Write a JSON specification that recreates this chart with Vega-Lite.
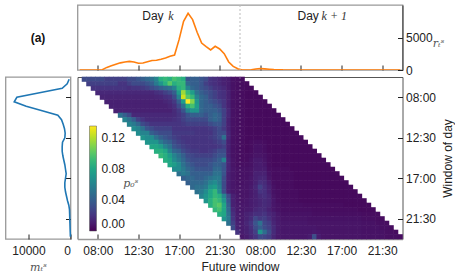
{"$schema":"https://vega.github.io/schema/vega-lite/v6.json","padding":{"left":4.5,"top":3,"right":0,"bottom":0},"config":{"view":{"stroke":"#999","strokeWidth":1.3},"axis":{"labelFont":"Liberation Sans","titleFont":"Liberation Sans","labelFontSize":12,"titleFontSize":12,"labelColor":"#222","titleColor":"#222","tickColor":"#222","domain":false,"grid":false,"labelOverlap":false,"titleFontWeight":"normal"},"text":{"font":"Liberation Sans"}},"columns":2,"spacing":7,"bounds":"flush","concat":[{"width":65,"height":65,"view":{"stroke":null},"data":{"values":[{"t":"(a)","x":0.5,"y":0.5}]},"mark":{"type":"text","fontWeight":"bold","fontSize":12,"color":"#111"},"encoding":{"text":{"field":"t"},"x":{"field":"x","type":"quantitative","scale":{"domain":[0,1]},"axis":null},"y":{"field":"y","type":"quantitative","scale":{"domain":[0,1]},"axis":null}}},{"width":325,"height":65,"layer":[{"data":{"values":[{"c":0,"v":0},{"c":4,"v":0},{"c":5,"v":50},{"c":6,"v":400},{"c":7,"v":650},{"c":8,"v":900},{"c":9,"v":1100},{"c":10,"v":1230},{"c":11,"v":1330},{"c":12,"v":1230},{"c":13,"v":1030},{"c":14,"v":1080},{"c":15,"v":1280},{"c":16,"v":1460},{"c":17,"v":1490},{"c":18,"v":1640},{"c":19,"v":1850},{"c":20,"v":2100},{"c":21,"v":2310},{"c":22,"v":4670},{"c":23,"v":7490},{"c":24,"v":8720},{"c":25,"v":7750},{"c":26,"v":5800},{"c":27,"v":4150},{"c":28,"v":3590},{"c":29,"v":3080},{"c":30,"v":3640},{"c":31,"v":3230},{"c":32,"v":2510},{"c":33,"v":1230},{"c":34,"v":560},{"c":35,"v":200},{"c":36,"v":0},{"c":37,"v":0},{"c":38,"v":30},{"c":39,"v":150},{"c":40,"v":220},{"c":41,"v":180},{"c":42,"v":120},{"c":43,"v":60},{"c":44,"v":40},{"c":45,"v":20},{"c":71,"v":10}]},"mark":{"type":"line","color":"#ff7f0e","strokeWidth":1.6,"clip":true},"encoding":{"x":{"field":"c","type":"quantitative","scale":{"domain":[-0.5,71.5],"nice":false,"zero":false},"axis":{"orient":"bottom","values":[4,13,22,31,40,49,58,67],"labels":false,"tickSize":-5,"title":null}},"y":{"field":"v","type":"quantitative","scale":{"domain":[0,10000],"nice":false},"axis":{"orient":"right","values":[0,5000],"tickSize":-5,"labelPadding":8,"format":"d","title":null,"domain":true,"domainColor":"#333","domainWidth":1}}}},{"data":{"values":[{"c":35.5}]},"mark":{"type":"rule","color":"#bbb","strokeDash":[2,2],"strokeWidth":1},"encoding":{"x":{"field":"c","type":"quantitative"}}},{"data":{"values":[{"t":"Day","c":16.2,"v":8300},{"t":"Day","c":50.6,"v":8300}]},"mark":{"type":"text","fontSize":12,"color":"#222"},"encoding":{"text":{"field":"t"},"x":{"field":"c","type":"quantitative"},"y":{"field":"v","type":"quantitative"}}},{"data":{"values":[{"t":"k","c":20.2,"v":8300},{"t":"k + 1","c":56.4,"v":8300}]},"mark":{"type":"text","fontSize":12,"font":"Liberation Serif","fontStyle":"italic","color":"#333"},"encoding":{"text":{"field":"t"},"x":{"field":"c","type":"quantitative"},"y":{"field":"v","type":"quantitative"}}},{"data":{"values":[{"t":"rₜˢ","c":79.5,"v":4000}]},"mark":{"type":"text","fontSize":11,"font":"DejaVu Serif","fontStyle":"italic","color":"#555","clip":false},"encoding":{"text":{"field":"t"},"x":{"field":"c","type":"quantitative"},"y":{"field":"v","type":"quantitative"}}}]},{"width":65,"height":162,"data":{"values":[{"r":0,"v":320},{"r":1,"v":790},{"r":2,"v":1980},{"r":3,"v":7370},{"r":4,"v":12770},{"r":5,"v":13400},{"r":6,"v":10550},{"r":7,"v":6740},{"r":8,"v":3010},{"r":9,"v":2140},{"r":10,"v":1740},{"r":11,"v":1430},{"r":12,"v":1270},{"r":13,"v":1350},{"r":14,"v":1900},{"r":15,"v":1980},{"r":16,"v":1980},{"r":17,"v":1820},{"r":18,"v":1590},{"r":19,"v":1350},{"r":20,"v":1190},{"r":21,"v":1030},{"r":22,"v":1190},{"r":23,"v":1350},{"r":24,"v":1350},{"r":25,"v":1190},{"r":26,"v":950},{"r":27,"v":710},{"r":28,"v":400},{"r":29,"v":240},{"r":30,"v":200},{"r":31,"v":170},{"r":32,"v":130},{"r":33,"v":100},{"r":34,"v":60},{"r":35,"v":20}]},"mark":{"type":"line","color":"#1f77b4","strokeWidth":1.6},"encoding":{"order":{"field":"r"},"x":{"field":"v","type":"quantitative","scale":{"domain":[15476,0],"nice":false,"zero":false},"axis":{"values":[10000,0],"tickSize":-5,"labelPadding":11,"format":"d","title":"mₜˢ","titleFont":"DejaVu Serif","titleFontStyle":"italic","titleFontSize":11,"titleColor":"#555","titlePadding":5}},"y":{"field":"r","type":"quantitative","scale":{"domain":[35.5,-0.5],"nice":false,"zero":false},"axis":{"orient":"right","values":[4,13,22,31],"labels":false,"tickSize":-5,"title":null}}}},{"width":325,"height":162,"view":{"stroke":"#555","strokeWidth":1},"layer":[{"data":{"values":[{"r":0,"c":1,"v":0.03},{"r":0,"c":2,"v":0.03},{"r":0,"c":3,"v":0.03},{"r":0,"c":4,"v":0.03},{"r":0,"c":5,"v":0.03},{"r":0,"c":6,"v":0.025},{"r":0,"c":7,"v":0.025},{"r":0,"c":8,"v":0.025},{"r":0,"c":9,"v":0.025},{"r":0,"c":10,"v":0.025},{"r":0,"c":11,"v":0.03},{"r":0,"c":12,"v":0.03},{"r":0,"c":13,"v":0.035},{"r":0,"c":14,"v":0.04},{"r":0,"c":15,"v":0.045},{"r":0,"c":16,"v":0.05},{"r":0,"c":17,"v":0.06},{"r":0,"c":18,"v":0.085},{"r":0,"c":19,"v":0.09},{"r":0,"c":20,"v":0.085},{"r":0,"c":21,"v":0.095},{"r":0,"c":22,"v":0.09},{"r":0,"c":23,"v":0.085},{"r":0,"c":24,"v":0.035},{"r":0,"c":25,"v":0.04},{"r":0,"c":26,"v":0.04},{"r":0,"c":27,"v":0.035},{"r":0,"c":28,"v":0.03},{"r":0,"c":29,"v":0.02},{"r":0,"c":30,"v":0.018},{"r":0,"c":31,"v":0.015},{"r":0,"c":32,"v":0.012},{"r":0,"c":33,"v":0.01},{"r":0,"c":34,"v":0.006},{"r":0,"c":35,"v":0.005},{"r":0,"c":36,"v":0.004},{"r":1,"c":2,"v":0.025},{"r":1,"c":3,"v":0.025},{"r":1,"c":4,"v":0.025},{"r":1,"c":5,"v":0.025},{"r":1,"c":6,"v":0.025},{"r":1,"c":7,"v":0.025},{"r":1,"c":8,"v":0.025},{"r":1,"c":9,"v":0.02},{"r":1,"c":10,"v":0.02},{"r":1,"c":11,"v":0.025},{"r":1,"c":12,"v":0.03},{"r":1,"c":13,"v":0.03},{"r":1,"c":14,"v":0.03},{"r":1,"c":15,"v":0.035},{"r":1,"c":16,"v":0.04},{"r":1,"c":17,"v":0.055},{"r":1,"c":18,"v":0.07},{"r":1,"c":19,"v":0.085},{"r":1,"c":20,"v":0.1},{"r":1,"c":21,"v":0.085},{"r":1,"c":22,"v":0.09},{"r":1,"c":23,"v":0.09},{"r":1,"c":24,"v":0.045},{"r":1,"c":25,"v":0.04},{"r":1,"c":26,"v":0.04},{"r":1,"c":27,"v":0.035},{"r":1,"c":28,"v":0.025},{"r":1,"c":29,"v":0.02},{"r":1,"c":30,"v":0.018},{"r":1,"c":31,"v":0.015},{"r":1,"c":32,"v":0.012},{"r":1,"c":33,"v":0.01},{"r":1,"c":34,"v":0.006},{"r":1,"c":35,"v":0.005},{"r":1,"c":36,"v":0.004},{"r":1,"c":37,"v":0.003},{"r":2,"c":3,"v":0.02},{"r":2,"c":4,"v":0.02},{"r":2,"c":5,"v":0.02},{"r":2,"c":6,"v":0.02},{"r":2,"c":7,"v":0.02},{"r":2,"c":8,"v":0.02},{"r":2,"c":9,"v":0.02},{"r":2,"c":10,"v":0.02},{"r":2,"c":11,"v":0.018},{"r":2,"c":12,"v":0.02},{"r":2,"c":13,"v":0.02},{"r":2,"c":14,"v":0.022},{"r":2,"c":15,"v":0.025},{"r":2,"c":16,"v":0.03},{"r":2,"c":17,"v":0.035},{"r":2,"c":18,"v":0.04},{"r":2,"c":19,"v":0.045},{"r":2,"c":20,"v":0.05},{"r":2,"c":21,"v":0.06},{"r":2,"c":22,"v":0.085},{"r":2,"c":23,"v":0.09},{"r":2,"c":24,"v":0.06},{"r":2,"c":25,"v":0.045},{"r":2,"c":26,"v":0.04},{"r":2,"c":27,"v":0.035},{"r":2,"c":28,"v":0.03},{"r":2,"c":29,"v":0.025},{"r":2,"c":30,"v":0.02},{"r":2,"c":31,"v":0.018},{"r":2,"c":32,"v":0.015},{"r":2,"c":33,"v":0.01},{"r":2,"c":34,"v":0.006},{"r":2,"c":35,"v":0.005},{"r":2,"c":36,"v":0.004},{"r":2,"c":37,"v":0.003},{"r":2,"c":38,"v":0.003},{"r":3,"c":4,"v":0.015},{"r":3,"c":5,"v":0.015},{"r":3,"c":6,"v":0.015},{"r":3,"c":7,"v":0.015},{"r":3,"c":8,"v":0.015},{"r":3,"c":9,"v":0.015},{"r":3,"c":10,"v":0.015},{"r":3,"c":11,"v":0.015},{"r":3,"c":12,"v":0.015},{"r":3,"c":13,"v":0.015},{"r":3,"c":14,"v":0.015},{"r":3,"c":15,"v":0.015},{"r":3,"c":16,"v":0.015},{"r":3,"c":17,"v":0.018},{"r":3,"c":18,"v":0.02},{"r":3,"c":19,"v":0.025},{"r":3,"c":20,"v":0.03},{"r":3,"c":21,"v":0.04},{"r":3,"c":22,"v":0.075},{"r":3,"c":23,"v":0.115},{"r":3,"c":24,"v":0.09},{"r":3,"c":25,"v":0.075},{"r":3,"c":26,"v":0.05},{"r":3,"c":27,"v":0.04},{"r":3,"c":28,"v":0.035},{"r":3,"c":29,"v":0.03},{"r":3,"c":30,"v":0.025},{"r":3,"c":31,"v":0.02},{"r":3,"c":32,"v":0.018},{"r":3,"c":33,"v":0.012},{"r":3,"c":34,"v":0.006},{"r":3,"c":35,"v":0.005},{"r":3,"c":36,"v":0.004},{"r":3,"c":37,"v":0.003},{"r":3,"c":38,"v":0.003},{"r":3,"c":39,"v":0.003},{"r":4,"c":5,"v":0.013},{"r":4,"c":6,"v":0.013},{"r":4,"c":7,"v":0.013},{"r":4,"c":8,"v":0.013},{"r":4,"c":9,"v":0.013},{"r":4,"c":10,"v":0.013},{"r":4,"c":11,"v":0.013},{"r":4,"c":12,"v":0.013},{"r":4,"c":13,"v":0.013},{"r":4,"c":14,"v":0.013},{"r":4,"c":15,"v":0.013},{"r":4,"c":16,"v":0.013},{"r":4,"c":17,"v":0.014},{"r":4,"c":18,"v":0.015},{"r":4,"c":19,"v":0.018},{"r":4,"c":20,"v":0.02},{"r":4,"c":21,"v":0.03},{"r":4,"c":22,"v":0.06},{"r":4,"c":23,"v":0.125},{"r":4,"c":24,"v":0.1},{"r":4,"c":25,"v":0.09},{"r":4,"c":26,"v":0.06},{"r":4,"c":27,"v":0.045},{"r":4,"c":28,"v":0.04},{"r":4,"c":29,"v":0.03},{"r":4,"c":30,"v":0.025},{"r":4,"c":31,"v":0.02},{"r":4,"c":32,"v":0.018},{"r":4,"c":33,"v":0.012},{"r":4,"c":34,"v":0.006},{"r":4,"c":35,"v":0.005},{"r":4,"c":36,"v":0.004},{"r":4,"c":37,"v":0.003},{"r":4,"c":38,"v":0.003},{"r":4,"c":39,"v":0.003},{"r":4,"c":40,"v":0.003},{"r":5,"c":6,"v":0.012},{"r":5,"c":7,"v":0.012},{"r":5,"c":8,"v":0.012},{"r":5,"c":9,"v":0.012},{"r":5,"c":10,"v":0.012},{"r":5,"c":11,"v":0.012},{"r":5,"c":12,"v":0.012},{"r":5,"c":13,"v":0.012},{"r":5,"c":14,"v":0.012},{"r":5,"c":15,"v":0.012},{"r":5,"c":16,"v":0.012},{"r":5,"c":17,"v":0.012},{"r":5,"c":18,"v":0.012},{"r":5,"c":19,"v":0.014},{"r":5,"c":20,"v":0.016},{"r":5,"c":21,"v":0.022},{"r":5,"c":22,"v":0.04},{"r":5,"c":23,"v":0.075},{"r":5,"c":24,"v":0.135},{"r":5,"c":25,"v":0.11},{"r":5,"c":26,"v":0.07},{"r":5,"c":27,"v":0.045},{"r":5,"c":28,"v":0.04},{"r":5,"c":29,"v":0.035},{"r":5,"c":30,"v":0.03},{"r":5,"c":31,"v":0.025},{"r":5,"c":32,"v":0.02},{"r":5,"c":33,"v":0.012},{"r":5,"c":34,"v":0.006},{"r":5,"c":35,"v":0.005},{"r":5,"c":36,"v":0.004},{"r":5,"c":37,"v":0.003},{"r":5,"c":38,"v":0.003},{"r":5,"c":39,"v":0.003},{"r":5,"c":40,"v":0.003},{"r":5,"c":41,"v":0.003},{"r":6,"c":7,"v":0.012},{"r":6,"c":8,"v":0.012},{"r":6,"c":9,"v":0.012},{"r":6,"c":10,"v":0.012},{"r":6,"c":11,"v":0.012},{"r":6,"c":12,"v":0.012},{"r":6,"c":13,"v":0.012},{"r":6,"c":14,"v":0.012},{"r":6,"c":15,"v":0.012},{"r":6,"c":16,"v":0.012},{"r":6,"c":17,"v":0.012},{"r":6,"c":18,"v":0.012},{"r":6,"c":19,"v":0.012},{"r":6,"c":20,"v":0.014},{"r":6,"c":21,"v":0.018},{"r":6,"c":22,"v":0.03},{"r":6,"c":23,"v":0.05},{"r":6,"c":24,"v":0.085},{"r":6,"c":25,"v":0.095},{"r":6,"c":26,"v":0.075},{"r":6,"c":27,"v":0.045},{"r":6,"c":28,"v":0.04},{"r":6,"c":29,"v":0.04},{"r":6,"c":30,"v":0.035},{"r":6,"c":31,"v":0.03},{"r":6,"c":32,"v":0.02},{"r":6,"c":33,"v":0.012},{"r":6,"c":34,"v":0.006},{"r":6,"c":35,"v":0.005},{"r":6,"c":36,"v":0.004},{"r":6,"c":37,"v":0.003},{"r":6,"c":38,"v":0.003},{"r":6,"c":39,"v":0.003},{"r":6,"c":40,"v":0.003},{"r":6,"c":41,"v":0.003},{"r":6,"c":42,"v":0.003},{"r":7,"c":8,"v":0.012},{"r":7,"c":9,"v":0.012},{"r":7,"c":10,"v":0.012},{"r":7,"c":11,"v":0.012},{"r":7,"c":12,"v":0.012},{"r":7,"c":13,"v":0.012},{"r":7,"c":14,"v":0.012},{"r":7,"c":15,"v":0.012},{"r":7,"c":16,"v":0.012},{"r":7,"c":17,"v":0.012},{"r":7,"c":18,"v":0.012},{"r":7,"c":19,"v":0.012},{"r":7,"c":20,"v":0.012},{"r":7,"c":21,"v":0.016},{"r":7,"c":22,"v":0.022},{"r":7,"c":23,"v":0.035},{"r":7,"c":24,"v":0.06},{"r":7,"c":25,"v":0.07},{"r":7,"c":26,"v":0.07},{"r":7,"c":27,"v":0.045},{"r":7,"c":28,"v":0.04},{"r":7,"c":29,"v":0.04},{"r":7,"c":30,"v":0.04},{"r":7,"c":31,"v":0.035},{"r":7,"c":32,"v":0.025},{"r":7,"c":33,"v":0.014},{"r":7,"c":34,"v":0.006},{"r":7,"c":35,"v":0.005},{"r":7,"c":36,"v":0.004},{"r":7,"c":37,"v":0.003},{"r":7,"c":38,"v":0.003},{"r":7,"c":39,"v":0.003},{"r":7,"c":40,"v":0.003},{"r":7,"c":41,"v":0.003},{"r":7,"c":42,"v":0.003},{"r":7,"c":43,"v":0.003},{"r":8,"c":9,"v":0.05},{"r":8,"c":10,"v":0.04},{"r":8,"c":11,"v":0.03},{"r":8,"c":12,"v":0.015},{"r":8,"c":13,"v":0.015},{"r":8,"c":14,"v":0.015},{"r":8,"c":15,"v":0.015},{"r":8,"c":16,"v":0.015},{"r":8,"c":17,"v":0.015},{"r":8,"c":18,"v":0.015},{"r":8,"c":19,"v":0.015},{"r":8,"c":20,"v":0.015},{"r":8,"c":21,"v":0.016},{"r":8,"c":22,"v":0.02},{"r":8,"c":23,"v":0.025},{"r":8,"c":24,"v":0.035},{"r":8,"c":25,"v":0.04},{"r":8,"c":26,"v":0.04},{"r":8,"c":27,"v":0.04},{"r":8,"c":28,"v":0.035},{"r":8,"c":29,"v":0.04},{"r":8,"c":30,"v":0.045},{"r":8,"c":31,"v":0.04},{"r":8,"c":32,"v":0.025},{"r":8,"c":33,"v":0.014},{"r":8,"c":34,"v":0.006},{"r":8,"c":35,"v":0.005},{"r":8,"c":36,"v":0.004},{"r":8,"c":37,"v":0.003},{"r":8,"c":38,"v":0.003},{"r":8,"c":39,"v":0.003},{"r":8,"c":40,"v":0.003},{"r":8,"c":41,"v":0.003},{"r":8,"c":42,"v":0.003},{"r":8,"c":43,"v":0.003},{"r":8,"c":44,"v":0.003},{"r":9,"c":10,"v":0.06},{"r":9,"c":11,"v":0.05},{"r":9,"c":12,"v":0.04},{"r":9,"c":13,"v":0.025},{"r":9,"c":14,"v":0.02},{"r":9,"c":15,"v":0.016},{"r":9,"c":16,"v":0.016},{"r":9,"c":17,"v":0.016},{"r":9,"c":18,"v":0.016},{"r":9,"c":19,"v":0.016},{"r":9,"c":20,"v":0.016},{"r":9,"c":21,"v":0.018},{"r":9,"c":22,"v":0.02},{"r":9,"c":23,"v":0.025},{"r":9,"c":24,"v":0.03},{"r":9,"c":25,"v":0.03},{"r":9,"c":26,"v":0.03},{"r":9,"c":27,"v":0.03},{"r":9,"c":28,"v":0.03},{"r":9,"c":29,"v":0.04},{"r":9,"c":30,"v":0.045},{"r":9,"c":31,"v":0.04},{"r":9,"c":32,"v":0.025},{"r":9,"c":33,"v":0.012},{"r":9,"c":34,"v":0.006},{"r":9,"c":35,"v":0.005},{"r":9,"c":36,"v":0.004},{"r":9,"c":37,"v":0.003},{"r":9,"c":38,"v":0.003},{"r":9,"c":39,"v":0.003},{"r":9,"c":40,"v":0.003},{"r":9,"c":41,"v":0.003},{"r":9,"c":42,"v":0.003},{"r":9,"c":43,"v":0.003},{"r":9,"c":44,"v":0.003},{"r":9,"c":45,"v":0.003},{"r":10,"c":11,"v":0.06},{"r":10,"c":12,"v":0.055},{"r":10,"c":13,"v":0.045},{"r":10,"c":14,"v":0.03},{"r":10,"c":15,"v":0.025},{"r":10,"c":16,"v":0.02},{"r":10,"c":17,"v":0.02},{"r":10,"c":18,"v":0.02},{"r":10,"c":19,"v":0.02},{"r":10,"c":20,"v":0.02},{"r":10,"c":21,"v":0.02},{"r":10,"c":22,"v":0.02},{"r":10,"c":23,"v":0.022},{"r":10,"c":24,"v":0.025},{"r":10,"c":25,"v":0.025},{"r":10,"c":26,"v":0.025},{"r":10,"c":27,"v":0.025},{"r":10,"c":28,"v":0.025},{"r":10,"c":29,"v":0.03},{"r":10,"c":30,"v":0.035},{"r":10,"c":31,"v":0.035},{"r":10,"c":32,"v":0.025},{"r":10,"c":33,"v":0.012},{"r":10,"c":34,"v":0.006},{"r":10,"c":35,"v":0.005},{"r":10,"c":36,"v":0.004},{"r":10,"c":37,"v":0.003},{"r":10,"c":38,"v":0.003},{"r":10,"c":39,"v":0.003},{"r":10,"c":40,"v":0.003},{"r":10,"c":41,"v":0.003},{"r":10,"c":42,"v":0.003},{"r":10,"c":43,"v":0.003},{"r":10,"c":44,"v":0.003},{"r":10,"c":45,"v":0.003},{"r":10,"c":46,"v":0.003},{"r":11,"c":12,"v":0.065},{"r":11,"c":13,"v":0.06},{"r":11,"c":14,"v":0.05},{"r":11,"c":15,"v":0.035},{"r":11,"c":16,"v":0.03},{"r":11,"c":17,"v":0.025},{"r":11,"c":18,"v":0.025},{"r":11,"c":19,"v":0.025},{"r":11,"c":20,"v":0.025},{"r":11,"c":21,"v":0.02},{"r":11,"c":22,"v":0.02},{"r":11,"c":23,"v":0.02},{"r":11,"c":24,"v":0.02},{"r":11,"c":25,"v":0.02},{"r":11,"c":26,"v":0.02},{"r":11,"c":27,"v":0.02},{"r":11,"c":28,"v":0.02},{"r":11,"c":29,"v":0.022},{"r":11,"c":30,"v":0.025},{"r":11,"c":31,"v":0.03},{"r":11,"c":32,"v":0.022},{"r":11,"c":33,"v":0.012},{"r":11,"c":34,"v":0.006},{"r":11,"c":35,"v":0.005},{"r":11,"c":36,"v":0.004},{"r":11,"c":37,"v":0.003},{"r":11,"c":38,"v":0.003},{"r":11,"c":39,"v":0.003},{"r":11,"c":40,"v":0.003},{"r":11,"c":41,"v":0.003},{"r":11,"c":42,"v":0.003},{"r":11,"c":43,"v":0.003},{"r":11,"c":44,"v":0.003},{"r":11,"c":45,"v":0.003},{"r":11,"c":46,"v":0.003},{"r":11,"c":47,"v":0.003},{"r":12,"c":13,"v":0.065},{"r":12,"c":14,"v":0.06},{"r":12,"c":15,"v":0.06},{"r":12,"c":16,"v":0.04},{"r":12,"c":17,"v":0.035},{"r":12,"c":18,"v":0.03},{"r":12,"c":19,"v":0.03},{"r":12,"c":20,"v":0.03},{"r":12,"c":21,"v":0.022},{"r":12,"c":22,"v":0.022},{"r":12,"c":23,"v":0.022},{"r":12,"c":24,"v":0.022},{"r":12,"c":25,"v":0.022},{"r":12,"c":26,"v":0.02},{"r":12,"c":27,"v":0.02},{"r":12,"c":28,"v":0.02},{"r":12,"c":29,"v":0.02},{"r":12,"c":30,"v":0.025},{"r":12,"c":31,"v":0.03},{"r":12,"c":32,"v":0.03},{"r":12,"c":33,"v":0.014},{"r":12,"c":34,"v":0.006},{"r":12,"c":35,"v":0.005},{"r":12,"c":36,"v":0.004},{"r":12,"c":37,"v":0.003},{"r":12,"c":38,"v":0.003},{"r":12,"c":39,"v":0.003},{"r":12,"c":40,"v":0.003},{"r":12,"c":41,"v":0.003},{"r":12,"c":42,"v":0.003},{"r":12,"c":43,"v":0.003},{"r":12,"c":44,"v":0.003},{"r":12,"c":45,"v":0.003},{"r":12,"c":46,"v":0.003},{"r":12,"c":47,"v":0.003},{"r":12,"c":48,"v":0.003},{"r":13,"c":14,"v":0.07},{"r":13,"c":15,"v":0.065},{"r":13,"c":16,"v":0.065},{"r":13,"c":17,"v":0.05},{"r":13,"c":18,"v":0.04},{"r":13,"c":19,"v":0.035},{"r":13,"c":20,"v":0.03},{"r":13,"c":21,"v":0.025},{"r":13,"c":22,"v":0.022},{"r":13,"c":23,"v":0.02},{"r":13,"c":24,"v":0.02},{"r":13,"c":25,"v":0.02},{"r":13,"c":26,"v":0.02},{"r":13,"c":27,"v":0.02},{"r":13,"c":28,"v":0.02},{"r":13,"c":29,"v":0.022},{"r":13,"c":30,"v":0.025},{"r":13,"c":31,"v":0.03},{"r":13,"c":32,"v":0.05},{"r":13,"c":33,"v":0.014},{"r":13,"c":34,"v":0.006},{"r":13,"c":35,"v":0.005},{"r":13,"c":36,"v":0.004},{"r":13,"c":37,"v":0.003},{"r":13,"c":38,"v":0.003},{"r":13,"c":39,"v":0.003},{"r":13,"c":40,"v":0.003},{"r":13,"c":41,"v":0.003},{"r":13,"c":42,"v":0.003},{"r":13,"c":43,"v":0.003},{"r":13,"c":44,"v":0.003},{"r":13,"c":45,"v":0.003},{"r":13,"c":46,"v":0.003},{"r":13,"c":47,"v":0.003},{"r":13,"c":48,"v":0.003},{"r":13,"c":49,"v":0.003},{"r":14,"c":15,"v":0.07},{"r":14,"c":16,"v":0.07},{"r":14,"c":17,"v":0.07},{"r":14,"c":18,"v":0.055},{"r":14,"c":19,"v":0.045},{"r":14,"c":20,"v":0.04},{"r":14,"c":21,"v":0.03},{"r":14,"c":22,"v":0.025},{"r":14,"c":23,"v":0.022},{"r":14,"c":24,"v":0.02},{"r":14,"c":25,"v":0.02},{"r":14,"c":26,"v":0.02},{"r":14,"c":27,"v":0.02},{"r":14,"c":28,"v":0.02},{"r":14,"c":29,"v":0.02},{"r":14,"c":30,"v":0.022},{"r":14,"c":31,"v":0.025},{"r":14,"c":32,"v":0.03},{"r":14,"c":33,"v":0.012},{"r":14,"c":34,"v":0.006},{"r":14,"c":35,"v":0.005},{"r":14,"c":36,"v":0.004},{"r":14,"c":37,"v":0.003},{"r":14,"c":38,"v":0.004},{"r":14,"c":39,"v":0.005},{"r":14,"c":40,"v":0.005},{"r":14,"c":41,"v":0.004},{"r":14,"c":42,"v":0.003},{"r":14,"c":43,"v":0.003},{"r":14,"c":44,"v":0.003},{"r":14,"c":45,"v":0.003},{"r":14,"c":46,"v":0.003},{"r":14,"c":47,"v":0.003},{"r":14,"c":48,"v":0.003},{"r":14,"c":49,"v":0.003},{"r":14,"c":50,"v":0.003},{"r":15,"c":16,"v":0.08},{"r":15,"c":17,"v":0.08},{"r":15,"c":18,"v":0.075},{"r":15,"c":19,"v":0.06},{"r":15,"c":20,"v":0.05},{"r":15,"c":21,"v":0.035},{"r":15,"c":22,"v":0.03},{"r":15,"c":23,"v":0.025},{"r":15,"c":24,"v":0.022},{"r":15,"c":25,"v":0.02},{"r":15,"c":26,"v":0.02},{"r":15,"c":27,"v":0.02},{"r":15,"c":28,"v":0.02},{"r":15,"c":29,"v":0.02},{"r":15,"c":30,"v":0.02},{"r":15,"c":31,"v":0.022},{"r":15,"c":32,"v":0.025},{"r":15,"c":33,"v":0.012},{"r":15,"c":34,"v":0.006},{"r":15,"c":35,"v":0.005},{"r":15,"c":36,"v":0.004},{"r":15,"c":37,"v":0.003},{"r":15,"c":38,"v":0.004},{"r":15,"c":39,"v":0.006},{"r":15,"c":40,"v":0.006},{"r":15,"c":41,"v":0.005},{"r":15,"c":42,"v":0.003},{"r":15,"c":43,"v":0.003},{"r":15,"c":44,"v":0.003},{"r":15,"c":45,"v":0.003},{"r":15,"c":46,"v":0.003},{"r":15,"c":47,"v":0.003},{"r":15,"c":48,"v":0.003},{"r":15,"c":49,"v":0.003},{"r":15,"c":50,"v":0.003},{"r":15,"c":51,"v":0.003},{"r":16,"c":17,"v":0.085},{"r":16,"c":18,"v":0.085},{"r":16,"c":19,"v":0.08},{"r":16,"c":20,"v":0.06},{"r":16,"c":21,"v":0.045},{"r":16,"c":22,"v":0.04},{"r":16,"c":23,"v":0.03},{"r":16,"c":24,"v":0.025},{"r":16,"c":25,"v":0.022},{"r":16,"c":26,"v":0.022},{"r":16,"c":27,"v":0.02},{"r":16,"c":28,"v":0.02},{"r":16,"c":29,"v":0.022},{"r":16,"c":30,"v":0.025},{"r":16,"c":31,"v":0.03},{"r":16,"c":32,"v":0.03},{"r":16,"c":33,"v":0.012},{"r":16,"c":34,"v":0.006},{"r":16,"c":35,"v":0.005},{"r":16,"c":36,"v":0.004},{"r":16,"c":37,"v":0.003},{"r":16,"c":38,"v":0.004},{"r":16,"c":39,"v":0.006},{"r":16,"c":40,"v":0.006},{"r":16,"c":41,"v":0.005},{"r":16,"c":42,"v":0.003},{"r":16,"c":43,"v":0.003},{"r":16,"c":44,"v":0.003},{"r":16,"c":45,"v":0.003},{"r":16,"c":46,"v":0.003},{"r":16,"c":47,"v":0.003},{"r":16,"c":48,"v":0.003},{"r":16,"c":49,"v":0.003},{"r":16,"c":50,"v":0.003},{"r":16,"c":51,"v":0.003},{"r":16,"c":52,"v":0.003},{"r":17,"c":18,"v":0.09},{"r":17,"c":19,"v":0.085},{"r":17,"c":20,"v":0.075},{"r":17,"c":21,"v":0.06},{"r":17,"c":22,"v":0.05},{"r":17,"c":23,"v":0.04},{"r":17,"c":24,"v":0.03},{"r":17,"c":25,"v":0.028},{"r":17,"c":26,"v":0.025},{"r":17,"c":27,"v":0.025},{"r":17,"c":28,"v":0.025},{"r":17,"c":29,"v":0.025},{"r":17,"c":30,"v":0.03},{"r":17,"c":31,"v":0.035},{"r":17,"c":32,"v":0.035},{"r":17,"c":33,"v":0.012},{"r":17,"c":34,"v":0.006},{"r":17,"c":35,"v":0.005},{"r":17,"c":36,"v":0.004},{"r":17,"c":37,"v":0.004},{"r":17,"c":38,"v":0.005},{"r":17,"c":39,"v":0.007},{"r":17,"c":40,"v":0.007},{"r":17,"c":41,"v":0.006},{"r":17,"c":42,"v":0.004},{"r":17,"c":43,"v":0.003},{"r":17,"c":44,"v":0.003},{"r":17,"c":45,"v":0.003},{"r":17,"c":46,"v":0.003},{"r":17,"c":47,"v":0.003},{"r":17,"c":48,"v":0.003},{"r":17,"c":49,"v":0.003},{"r":17,"c":50,"v":0.003},{"r":17,"c":51,"v":0.003},{"r":17,"c":52,"v":0.003},{"r":17,"c":53,"v":0.003},{"r":18,"c":19,"v":0.085},{"r":18,"c":20,"v":0.08},{"r":18,"c":21,"v":0.065},{"r":18,"c":22,"v":0.055},{"r":18,"c":23,"v":0.045},{"r":18,"c":24,"v":0.035},{"r":18,"c":25,"v":0.03},{"r":18,"c":26,"v":0.03},{"r":18,"c":27,"v":0.03},{"r":18,"c":28,"v":0.03},{"r":18,"c":29,"v":0.03},{"r":18,"c":30,"v":0.035},{"r":18,"c":31,"v":0.04},{"r":18,"c":32,"v":0.06},{"r":18,"c":33,"v":0.014},{"r":18,"c":34,"v":0.007},{"r":18,"c":35,"v":0.005},{"r":18,"c":36,"v":0.004},{"r":18,"c":37,"v":0.004},{"r":18,"c":38,"v":0.006},{"r":18,"c":39,"v":0.009},{"r":18,"c":40,"v":0.009},{"r":18,"c":41,"v":0.007},{"r":18,"c":42,"v":0.004},{"r":18,"c":43,"v":0.003},{"r":18,"c":44,"v":0.003},{"r":18,"c":45,"v":0.003},{"r":18,"c":46,"v":0.003},{"r":18,"c":47,"v":0.003},{"r":18,"c":48,"v":0.003},{"r":18,"c":49,"v":0.003},{"r":18,"c":50,"v":0.003},{"r":18,"c":51,"v":0.003},{"r":18,"c":52,"v":0.003},{"r":18,"c":53,"v":0.003},{"r":18,"c":54,"v":0.003},{"r":19,"c":20,"v":0.08},{"r":19,"c":21,"v":0.075},{"r":19,"c":22,"v":0.065},{"r":19,"c":23,"v":0.05},{"r":19,"c":24,"v":0.04},{"r":19,"c":25,"v":0.035},{"r":19,"c":26,"v":0.03},{"r":19,"c":27,"v":0.03},{"r":19,"c":28,"v":0.03},{"r":19,"c":29,"v":0.035},{"r":19,"c":30,"v":0.04},{"r":19,"c":31,"v":0.04},{"r":19,"c":32,"v":0.035},{"r":19,"c":33,"v":0.014},{"r":19,"c":34,"v":0.007},{"r":19,"c":35,"v":0.005},{"r":19,"c":36,"v":0.005},{"r":19,"c":37,"v":0.005},{"r":19,"c":38,"v":0.006},{"r":19,"c":39,"v":0.009},{"r":19,"c":40,"v":0.01},{"r":19,"c":41,"v":0.008},{"r":19,"c":42,"v":0.004},{"r":19,"c":43,"v":0.003},{"r":19,"c":44,"v":0.003},{"r":19,"c":45,"v":0.003},{"r":19,"c":46,"v":0.003},{"r":19,"c":47,"v":0.003},{"r":19,"c":48,"v":0.003},{"r":19,"c":49,"v":0.003},{"r":19,"c":50,"v":0.003},{"r":19,"c":51,"v":0.003},{"r":19,"c":52,"v":0.003},{"r":19,"c":53,"v":0.003},{"r":19,"c":54,"v":0.003},{"r":19,"c":55,"v":0.003},{"r":20,"c":21,"v":0.065},{"r":20,"c":22,"v":0.065},{"r":20,"c":23,"v":0.055},{"r":20,"c":24,"v":0.045},{"r":20,"c":25,"v":0.04},{"r":20,"c":26,"v":0.035},{"r":20,"c":27,"v":0.035},{"r":20,"c":28,"v":0.035},{"r":20,"c":29,"v":0.035},{"r":20,"c":30,"v":0.045},{"r":20,"c":31,"v":0.045},{"r":20,"c":32,"v":0.035},{"r":20,"c":33,"v":0.014},{"r":20,"c":34,"v":0.008},{"r":20,"c":35,"v":0.006},{"r":20,"c":36,"v":0.006},{"r":20,"c":37,"v":0.006},{"r":20,"c":38,"v":0.007},{"r":20,"c":39,"v":0.01},{"r":20,"c":40,"v":0.01},{"r":20,"c":41,"v":0.01},{"r":20,"c":42,"v":0.005},{"r":20,"c":43,"v":0.004},{"r":20,"c":44,"v":0.004},{"r":20,"c":45,"v":0.004},{"r":20,"c":46,"v":0.004},{"r":20,"c":47,"v":0.003},{"r":20,"c":48,"v":0.003},{"r":20,"c":49,"v":0.003},{"r":20,"c":50,"v":0.003},{"r":20,"c":51,"v":0.003},{"r":20,"c":52,"v":0.003},{"r":20,"c":53,"v":0.003},{"r":20,"c":54,"v":0.003},{"r":20,"c":55,"v":0.003},{"r":20,"c":56,"v":0.003},{"r":21,"c":22,"v":0.05},{"r":21,"c":23,"v":0.055},{"r":21,"c":24,"v":0.05},{"r":21,"c":25,"v":0.04},{"r":21,"c":26,"v":0.04},{"r":21,"c":27,"v":0.04},{"r":21,"c":28,"v":0.04},{"r":21,"c":29,"v":0.04},{"r":21,"c":30,"v":0.05},{"r":21,"c":31,"v":0.05},{"r":21,"c":32,"v":0.035},{"r":21,"c":33,"v":0.012},{"r":21,"c":34,"v":0.008},{"r":21,"c":35,"v":0.006},{"r":21,"c":36,"v":0.006},{"r":21,"c":37,"v":0.006},{"r":21,"c":38,"v":0.007},{"r":21,"c":39,"v":0.012},{"r":21,"c":40,"v":0.012},{"r":21,"c":41,"v":0.012},{"r":21,"c":42,"v":0.006},{"r":21,"c":43,"v":0.004},{"r":21,"c":44,"v":0.004},{"r":21,"c":45,"v":0.004},{"r":21,"c":46,"v":0.004},{"r":21,"c":47,"v":0.004},{"r":21,"c":48,"v":0.003},{"r":21,"c":49,"v":0.003},{"r":21,"c":50,"v":0.003},{"r":21,"c":51,"v":0.003},{"r":21,"c":52,"v":0.003},{"r":21,"c":53,"v":0.003},{"r":21,"c":54,"v":0.003},{"r":21,"c":55,"v":0.003},{"r":21,"c":56,"v":0.003},{"r":21,"c":57,"v":0.003},{"r":22,"c":23,"v":0.04},{"r":22,"c":24,"v":0.045},{"r":22,"c":25,"v":0.045},{"r":22,"c":26,"v":0.04},{"r":22,"c":27,"v":0.04},{"r":22,"c":28,"v":0.045},{"r":22,"c":29,"v":0.05},{"r":22,"c":30,"v":0.055},{"r":22,"c":31,"v":0.055},{"r":22,"c":32,"v":0.03},{"r":22,"c":33,"v":0.012},{"r":22,"c":34,"v":0.008},{"r":22,"c":35,"v":0.006},{"r":22,"c":36,"v":0.006},{"r":22,"c":37,"v":0.006},{"r":22,"c":38,"v":0.008},{"r":22,"c":39,"v":0.012},{"r":22,"c":40,"v":0.014},{"r":22,"c":41,"v":0.014},{"r":22,"c":42,"v":0.007},{"r":22,"c":43,"v":0.004},{"r":22,"c":44,"v":0.004},{"r":22,"c":45,"v":0.004},{"r":22,"c":46,"v":0.004},{"r":22,"c":47,"v":0.004},{"r":22,"c":48,"v":0.003},{"r":22,"c":49,"v":0.003},{"r":22,"c":50,"v":0.003},{"r":22,"c":51,"v":0.003},{"r":22,"c":52,"v":0.003},{"r":22,"c":53,"v":0.003},{"r":22,"c":54,"v":0.003},{"r":22,"c":55,"v":0.003},{"r":22,"c":56,"v":0.003},{"r":22,"c":57,"v":0.003},{"r":22,"c":58,"v":0.003},{"r":23,"c":24,"v":0.04},{"r":23,"c":25,"v":0.045},{"r":23,"c":26,"v":0.045},{"r":23,"c":27,"v":0.045},{"r":23,"c":28,"v":0.05},{"r":23,"c":29,"v":0.06},{"r":23,"c":30,"v":0.065},{"r":23,"c":31,"v":0.055},{"r":23,"c":32,"v":0.03},{"r":23,"c":33,"v":0.012},{"r":23,"c":34,"v":0.008},{"r":23,"c":35,"v":0.006},{"r":23,"c":36,"v":0.006},{"r":23,"c":37,"v":0.007},{"r":23,"c":38,"v":0.008},{"r":23,"c":39,"v":0.012},{"r":23,"c":40,"v":0.018},{"r":23,"c":41,"v":0.016},{"r":23,"c":42,"v":0.01},{"r":23,"c":43,"v":0.005},{"r":23,"c":44,"v":0.004},{"r":23,"c":45,"v":0.004},{"r":23,"c":46,"v":0.004},{"r":23,"c":47,"v":0.004},{"r":23,"c":48,"v":0.003},{"r":23,"c":49,"v":0.003},{"r":23,"c":50,"v":0.003},{"r":23,"c":51,"v":0.003},{"r":23,"c":52,"v":0.003},{"r":23,"c":53,"v":0.003},{"r":23,"c":54,"v":0.003},{"r":23,"c":55,"v":0.003},{"r":23,"c":56,"v":0.003},{"r":23,"c":57,"v":0.003},{"r":23,"c":58,"v":0.003},{"r":23,"c":59,"v":0.003},{"r":24,"c":25,"v":0.045},{"r":24,"c":26,"v":0.05},{"r":24,"c":27,"v":0.05},{"r":24,"c":28,"v":0.055},{"r":24,"c":29,"v":0.07},{"r":24,"c":30,"v":0.075},{"r":24,"c":31,"v":0.06},{"r":24,"c":32,"v":0.03},{"r":24,"c":33,"v":0.012},{"r":24,"c":34,"v":0.008},{"r":24,"c":35,"v":0.007},{"r":24,"c":36,"v":0.007},{"r":24,"c":37,"v":0.007},{"r":24,"c":38,"v":0.009},{"r":24,"c":39,"v":0.014},{"r":24,"c":40,"v":0.025},{"r":24,"c":41,"v":0.018},{"r":24,"c":42,"v":0.012},{"r":24,"c":43,"v":0.006},{"r":24,"c":44,"v":0.004},{"r":24,"c":45,"v":0.004},{"r":24,"c":46,"v":0.004},{"r":24,"c":47,"v":0.004},{"r":24,"c":48,"v":0.003},{"r":24,"c":49,"v":0.003},{"r":24,"c":50,"v":0.003},{"r":24,"c":51,"v":0.003},{"r":24,"c":52,"v":0.003},{"r":24,"c":53,"v":0.003},{"r":24,"c":54,"v":0.003},{"r":24,"c":55,"v":0.003},{"r":24,"c":56,"v":0.003},{"r":24,"c":57,"v":0.003},{"r":24,"c":58,"v":0.003},{"r":24,"c":59,"v":0.003},{"r":24,"c":60,"v":0.003},{"r":25,"c":26,"v":0.05},{"r":25,"c":27,"v":0.055},{"r":25,"c":28,"v":0.065},{"r":25,"c":29,"v":0.08},{"r":25,"c":30,"v":0.09},{"r":25,"c":31,"v":0.065},{"r":25,"c":32,"v":0.03},{"r":25,"c":33,"v":0.012},{"r":25,"c":34,"v":0.008},{"r":25,"c":35,"v":0.007},{"r":25,"c":36,"v":0.007},{"r":25,"c":37,"v":0.007},{"r":25,"c":38,"v":0.009},{"r":25,"c":39,"v":0.012},{"r":25,"c":40,"v":0.02},{"r":25,"c":41,"v":0.018},{"r":25,"c":42,"v":0.012},{"r":25,"c":43,"v":0.006},{"r":25,"c":44,"v":0.005},{"r":25,"c":45,"v":0.004},{"r":25,"c":46,"v":0.004},{"r":25,"c":47,"v":0.004},{"r":25,"c":48,"v":0.004},{"r":25,"c":49,"v":0.003},{"r":25,"c":50,"v":0.003},{"r":25,"c":51,"v":0.003},{"r":25,"c":52,"v":0.003},{"r":25,"c":53,"v":0.003},{"r":25,"c":54,"v":0.003},{"r":25,"c":55,"v":0.003},{"r":25,"c":56,"v":0.003},{"r":25,"c":57,"v":0.003},{"r":25,"c":58,"v":0.003},{"r":25,"c":59,"v":0.003},{"r":25,"c":60,"v":0.003},{"r":25,"c":61,"v":0.003},{"r":26,"c":27,"v":0.06},{"r":26,"c":28,"v":0.07},{"r":26,"c":29,"v":0.08},{"r":26,"c":30,"v":0.09},{"r":26,"c":31,"v":0.085},{"r":26,"c":32,"v":0.06},{"r":26,"c":33,"v":0.03},{"r":26,"c":34,"v":0.012},{"r":26,"c":35,"v":0.008},{"r":26,"c":36,"v":0.007},{"r":26,"c":37,"v":0.007},{"r":26,"c":38,"v":0.009},{"r":26,"c":39,"v":0.012},{"r":26,"c":40,"v":0.016},{"r":26,"c":41,"v":0.018},{"r":26,"c":42,"v":0.014},{"r":26,"c":43,"v":0.007},{"r":26,"c":44,"v":0.005},{"r":26,"c":45,"v":0.004},{"r":26,"c":46,"v":0.004},{"r":26,"c":47,"v":0.004},{"r":26,"c":48,"v":0.004},{"r":26,"c":49,"v":0.003},{"r":26,"c":50,"v":0.003},{"r":26,"c":51,"v":0.003},{"r":26,"c":52,"v":0.003},{"r":26,"c":53,"v":0.003},{"r":26,"c":54,"v":0.003},{"r":26,"c":55,"v":0.003},{"r":26,"c":56,"v":0.003},{"r":26,"c":57,"v":0.003},{"r":26,"c":58,"v":0.003},{"r":26,"c":59,"v":0.003},{"r":26,"c":60,"v":0.003},{"r":26,"c":61,"v":0.003},{"r":26,"c":62,"v":0.003},{"r":27,"c":28,"v":0.07},{"r":27,"c":29,"v":0.085},{"r":27,"c":30,"v":0.095},{"r":27,"c":31,"v":0.09},{"r":27,"c":32,"v":0.07},{"r":27,"c":33,"v":0.035},{"r":27,"c":34,"v":0.012},{"r":27,"c":35,"v":0.008},{"r":27,"c":36,"v":0.007},{"r":27,"c":37,"v":0.008},{"r":27,"c":38,"v":0.01},{"r":27,"c":39,"v":0.012},{"r":27,"c":40,"v":0.014},{"r":27,"c":41,"v":0.016},{"r":27,"c":42,"v":0.014},{"r":27,"c":43,"v":0.008},{"r":27,"c":44,"v":0.005},{"r":27,"c":45,"v":0.004},{"r":27,"c":46,"v":0.004},{"r":27,"c":47,"v":0.004},{"r":27,"c":48,"v":0.004},{"r":27,"c":49,"v":0.003},{"r":27,"c":50,"v":0.003},{"r":27,"c":51,"v":0.003},{"r":27,"c":52,"v":0.003},{"r":27,"c":53,"v":0.003},{"r":27,"c":54,"v":0.003},{"r":27,"c":55,"v":0.003},{"r":27,"c":56,"v":0.003},{"r":27,"c":57,"v":0.003},{"r":27,"c":58,"v":0.003},{"r":27,"c":59,"v":0.003},{"r":27,"c":60,"v":0.003},{"r":27,"c":61,"v":0.003},{"r":27,"c":62,"v":0.003},{"r":27,"c":63,"v":0.003},{"r":28,"c":29,"v":0.085},{"r":28,"c":30,"v":0.095},{"r":28,"c":31,"v":0.1},{"r":28,"c":32,"v":0.08},{"r":28,"c":33,"v":0.04},{"r":28,"c":34,"v":0.012},{"r":28,"c":35,"v":0.009},{"r":28,"c":36,"v":0.008},{"r":28,"c":37,"v":0.008},{"r":28,"c":38,"v":0.01},{"r":28,"c":39,"v":0.012},{"r":28,"c":40,"v":0.014},{"r":28,"c":41,"v":0.016},{"r":28,"c":42,"v":0.014},{"r":28,"c":43,"v":0.008},{"r":28,"c":44,"v":0.006},{"r":28,"c":45,"v":0.005},{"r":28,"c":46,"v":0.005},{"r":28,"c":47,"v":0.005},{"r":28,"c":48,"v":0.005},{"r":28,"c":49,"v":0.005},{"r":28,"c":50,"v":0.004},{"r":28,"c":51,"v":0.004},{"r":28,"c":52,"v":0.004},{"r":28,"c":53,"v":0.004},{"r":28,"c":54,"v":0.004},{"r":28,"c":55,"v":0.004},{"r":28,"c":56,"v":0.004},{"r":28,"c":57,"v":0.004},{"r":28,"c":58,"v":0.004},{"r":28,"c":59,"v":0.003},{"r":28,"c":60,"v":0.003},{"r":28,"c":61,"v":0.003},{"r":28,"c":62,"v":0.003},{"r":28,"c":63,"v":0.003},{"r":28,"c":64,"v":0.003},{"r":29,"c":30,"v":0.09},{"r":29,"c":31,"v":0.095},{"r":29,"c":32,"v":0.08},{"r":29,"c":33,"v":0.045},{"r":29,"c":34,"v":0.015},{"r":29,"c":35,"v":0.009},{"r":29,"c":36,"v":0.008},{"r":29,"c":37,"v":0.009},{"r":29,"c":38,"v":0.01},{"r":29,"c":39,"v":0.014},{"r":29,"c":40,"v":0.016},{"r":29,"c":41,"v":0.016},{"r":29,"c":42,"v":0.012},{"r":29,"c":43,"v":0.008},{"r":29,"c":44,"v":0.006},{"r":29,"c":45,"v":0.005},{"r":29,"c":46,"v":0.005},{"r":29,"c":47,"v":0.005},{"r":29,"c":48,"v":0.005},{"r":29,"c":49,"v":0.005},{"r":29,"c":50,"v":0.005},{"r":29,"c":51,"v":0.005},{"r":29,"c":52,"v":0.004},{"r":29,"c":53,"v":0.004},{"r":29,"c":54,"v":0.004},{"r":29,"c":55,"v":0.004},{"r":29,"c":56,"v":0.004},{"r":29,"c":57,"v":0.004},{"r":29,"c":58,"v":0.004},{"r":29,"c":59,"v":0.004},{"r":29,"c":60,"v":0.004},{"r":29,"c":61,"v":0.004},{"r":29,"c":62,"v":0.003},{"r":29,"c":63,"v":0.003},{"r":29,"c":64,"v":0.003},{"r":29,"c":65,"v":0.003},{"r":30,"c":31,"v":0.085},{"r":30,"c":32,"v":0.08},{"r":30,"c":33,"v":0.05},{"r":30,"c":34,"v":0.018},{"r":30,"c":35,"v":0.01},{"r":30,"c":36,"v":0.009},{"r":30,"c":37,"v":0.012},{"r":30,"c":38,"v":0.014},{"r":30,"c":39,"v":0.018},{"r":30,"c":40,"v":0.018},{"r":30,"c":41,"v":0.02},{"r":30,"c":42,"v":0.015},{"r":30,"c":43,"v":0.012},{"r":30,"c":44,"v":0.008},{"r":30,"c":45,"v":0.006},{"r":30,"c":46,"v":0.006},{"r":30,"c":47,"v":0.006},{"r":30,"c":48,"v":0.006},{"r":30,"c":49,"v":0.006},{"r":30,"c":50,"v":0.006},{"r":30,"c":51,"v":0.006},{"r":30,"c":52,"v":0.005},{"r":30,"c":53,"v":0.005},{"r":30,"c":54,"v":0.005},{"r":30,"c":55,"v":0.005},{"r":30,"c":56,"v":0.005},{"r":30,"c":57,"v":0.005},{"r":30,"c":58,"v":0.005},{"r":30,"c":59,"v":0.005},{"r":30,"c":60,"v":0.005},{"r":30,"c":61,"v":0.005},{"r":30,"c":62,"v":0.005},{"r":30,"c":63,"v":0.004},{"r":30,"c":64,"v":0.004},{"r":30,"c":65,"v":0.004},{"r":30,"c":66,"v":0.004},{"r":31,"c":32,"v":0.07},{"r":31,"c":33,"v":0.055},{"r":31,"c":34,"v":0.02},{"r":31,"c":35,"v":0.01},{"r":31,"c":36,"v":0.009},{"r":31,"c":37,"v":0.012},{"r":31,"c":38,"v":0.016},{"r":31,"c":39,"v":0.028},{"r":31,"c":40,"v":0.022},{"r":31,"c":41,"v":0.024},{"r":31,"c":42,"v":0.018},{"r":31,"c":43,"v":0.012},{"r":31,"c":44,"v":0.009},{"r":31,"c":45,"v":0.007},{"r":31,"c":46,"v":0.007},{"r":31,"c":47,"v":0.007},{"r":31,"c":48,"v":0.007},{"r":31,"c":49,"v":0.007},{"r":31,"c":50,"v":0.007},{"r":31,"c":51,"v":0.006},{"r":31,"c":52,"v":0.006},{"r":31,"c":53,"v":0.006},{"r":31,"c":54,"v":0.006},{"r":31,"c":55,"v":0.006},{"r":31,"c":56,"v":0.006},{"r":31,"c":57,"v":0.006},{"r":31,"c":58,"v":0.006},{"r":31,"c":59,"v":0.006},{"r":31,"c":60,"v":0.006},{"r":31,"c":61,"v":0.006},{"r":31,"c":62,"v":0.006},{"r":31,"c":63,"v":0.005},{"r":31,"c":64,"v":0.005},{"r":31,"c":65,"v":0.005},{"r":31,"c":66,"v":0.004},{"r":31,"c":67,"v":0.004},{"r":32,"c":33,"v":0.05},{"r":32,"c":34,"v":0.025},{"r":32,"c":35,"v":0.012},{"r":32,"c":36,"v":0.01},{"r":32,"c":37,"v":0.014},{"r":32,"c":38,"v":0.02},{"r":32,"c":39,"v":0.035},{"r":32,"c":40,"v":0.05},{"r":32,"c":41,"v":0.028},{"r":32,"c":42,"v":0.024},{"r":32,"c":43,"v":0.014},{"r":32,"c":44,"v":0.01},{"r":32,"c":45,"v":0.008},{"r":32,"c":46,"v":0.008},{"r":32,"c":47,"v":0.008},{"r":32,"c":48,"v":0.008},{"r":32,"c":49,"v":0.008},{"r":32,"c":50,"v":0.008},{"r":32,"c":51,"v":0.007},{"r":32,"c":52,"v":0.007},{"r":32,"c":53,"v":0.007},{"r":32,"c":54,"v":0.007},{"r":32,"c":55,"v":0.007},{"r":32,"c":56,"v":0.007},{"r":32,"c":57,"v":0.007},{"r":32,"c":58,"v":0.007},{"r":32,"c":59,"v":0.007},{"r":32,"c":60,"v":0.007},{"r":32,"c":61,"v":0.007},{"r":32,"c":62,"v":0.007},{"r":32,"c":63,"v":0.006},{"r":32,"c":64,"v":0.006},{"r":32,"c":65,"v":0.006},{"r":32,"c":66,"v":0.005},{"r":32,"c":67,"v":0.005},{"r":32,"c":68,"v":0.004},{"r":33,"c":34,"v":0.03},{"r":33,"c":35,"v":0.012},{"r":33,"c":36,"v":0.01},{"r":33,"c":37,"v":0.012},{"r":33,"c":38,"v":0.018},{"r":33,"c":39,"v":0.03},{"r":33,"c":40,"v":0.04},{"r":33,"c":41,"v":0.03},{"r":33,"c":42,"v":0.025},{"r":33,"c":43,"v":0.016},{"r":33,"c":44,"v":0.01},{"r":33,"c":45,"v":0.008},{"r":33,"c":46,"v":0.008},{"r":33,"c":47,"v":0.008},{"r":33,"c":48,"v":0.008},{"r":33,"c":49,"v":0.008},{"r":33,"c":50,"v":0.008},{"r":33,"c":51,"v":0.008},{"r":33,"c":52,"v":0.008},{"r":33,"c":53,"v":0.007},{"r":33,"c":54,"v":0.007},{"r":33,"c":55,"v":0.007},{"r":33,"c":56,"v":0.007},{"r":33,"c":57,"v":0.007},{"r":33,"c":58,"v":0.007},{"r":33,"c":59,"v":0.007},{"r":33,"c":60,"v":0.007},{"r":33,"c":61,"v":0.007},{"r":33,"c":62,"v":0.007},{"r":33,"c":63,"v":0.006},{"r":33,"c":64,"v":0.006},{"r":33,"c":65,"v":0.006},{"r":33,"c":66,"v":0.006},{"r":33,"c":67,"v":0.005},{"r":33,"c":68,"v":0.005},{"r":33,"c":69,"v":0.004},{"r":34,"c":35,"v":0.02},{"r":34,"c":36,"v":0.01},{"r":34,"c":37,"v":0.012},{"r":34,"c":38,"v":0.016},{"r":34,"c":39,"v":0.025},{"r":34,"c":40,"v":0.07},{"r":34,"c":41,"v":0.048},{"r":34,"c":42,"v":0.03},{"r":34,"c":43,"v":0.016},{"r":34,"c":44,"v":0.01},{"r":34,"c":45,"v":0.008},{"r":34,"c":46,"v":0.008},{"r":34,"c":47,"v":0.008},{"r":34,"c":48,"v":0.008},{"r":34,"c":49,"v":0.008},{"r":34,"c":50,"v":0.008},{"r":34,"c":51,"v":0.008},{"r":34,"c":52,"v":0.009},{"r":34,"c":53,"v":0.008},{"r":34,"c":54,"v":0.007},{"r":34,"c":55,"v":0.007},{"r":34,"c":56,"v":0.007},{"r":34,"c":57,"v":0.007},{"r":34,"c":58,"v":0.007},{"r":34,"c":59,"v":0.007},{"r":34,"c":60,"v":0.007},{"r":34,"c":61,"v":0.007},{"r":34,"c":62,"v":0.007},{"r":34,"c":63,"v":0.006},{"r":34,"c":64,"v":0.006},{"r":34,"c":65,"v":0.006},{"r":34,"c":66,"v":0.006},{"r":34,"c":67,"v":0.006},{"r":34,"c":68,"v":0.005},{"r":34,"c":69,"v":0.005},{"r":34,"c":70,"v":0.004},{"r":35,"c":36,"v":0.008},{"r":35,"c":37,"v":0.01},{"r":35,"c":38,"v":0.014},{"r":35,"c":39,"v":0.02},{"r":35,"c":40,"v":0.03},{"r":35,"c":41,"v":0.028},{"r":35,"c":42,"v":0.024},{"r":35,"c":43,"v":0.014},{"r":35,"c":44,"v":0.009},{"r":35,"c":45,"v":0.008},{"r":35,"c":46,"v":0.008},{"r":35,"c":47,"v":0.008},{"r":35,"c":48,"v":0.008},{"r":35,"c":49,"v":0.008},{"r":35,"c":50,"v":0.008},{"r":35,"c":51,"v":0.01},{"r":35,"c":52,"v":0.032},{"r":35,"c":53,"v":0.01},{"r":35,"c":54,"v":0.007},{"r":35,"c":55,"v":0.007},{"r":35,"c":56,"v":0.007},{"r":35,"c":57,"v":0.007},{"r":35,"c":58,"v":0.007},{"r":35,"c":59,"v":0.007},{"r":35,"c":60,"v":0.007},{"r":35,"c":61,"v":0.007},{"r":35,"c":62,"v":0.007},{"r":35,"c":63,"v":0.006},{"r":35,"c":64,"v":0.006},{"r":35,"c":65,"v":0.006},{"r":35,"c":66,"v":0.006},{"r":35,"c":67,"v":0.006},{"r":35,"c":68,"v":0.005},{"r":35,"c":69,"v":0.005},{"r":35,"c":70,"v":0.005},{"r":35,"c":71,"v":0.004}]},"mark":{"type":"rect","width":5.1,"height":5.1},"encoding":{"x":{"field":"c","type":"quantitative","scale":{"domain":[-0.5,71.5],"nice":false,"zero":false},"axis":{"values":[4,13,22,31,40,49,58,67],"tickSize":-5,"labelPadding":11,"labelExpr":"['08:00','12:30','17:00','21:30'][((datum.value-4)/9)%4]","title":"Future window","titlePadding":5,"domain":true,"domainColor":"#999","domainWidth":1.3}},"y":{"field":"r","type":"quantitative","scale":{"domain":[35.5,-0.5],"nice":false,"zero":false},"axis":{"orient":"right","values":[4,13,22,31],"tickSize":-5,"labelPadding":8,"labelExpr":"['08:00','12:30','17:00','21:30'][(datum.value-4)/9]","title":"Window of day","titleAngle":270,"titlePadding":19}},"color":{"field":"v","type":"quantitative","scale":{"scheme":"viridis","domain":[0,0.135]},"legend":{"orient":"none","legendX":84,"legendY":121,"title":null,"padding":0,"gradientLength":105,"gradientThickness":7,"gradientStrokeColor":"#555","gradientStrokeWidth":0.5,"values":[0,0.04,0.08,0.12],"format":".2f","labelFontSize":12,"labelFont":"Liberation Sans","labelColor":"#222","labelOffset":5,"labelOverlap":false,"labelBaseline":"middle"}}}},{"data":{"values":[{"c":35.5}]},"mark":{"type":"rule","color":"#fff","opacity":0.3,"strokeDash":[2,2],"strokeWidth":1},"encoding":{"x":{"field":"c","type":"quantitative"}}},{"data":{"values":[{"t":"p₀ˢ","c":11.3,"r":23.3}]},"mark":{"type":"text","fontSize":11,"font":"DejaVu Serif","fontStyle":"italic","color":"#555"},"encoding":{"text":{"field":"t"},"x":{"field":"c","type":"quantitative"},"y":{"field":"r","type":"quantitative"}}}]}]}
